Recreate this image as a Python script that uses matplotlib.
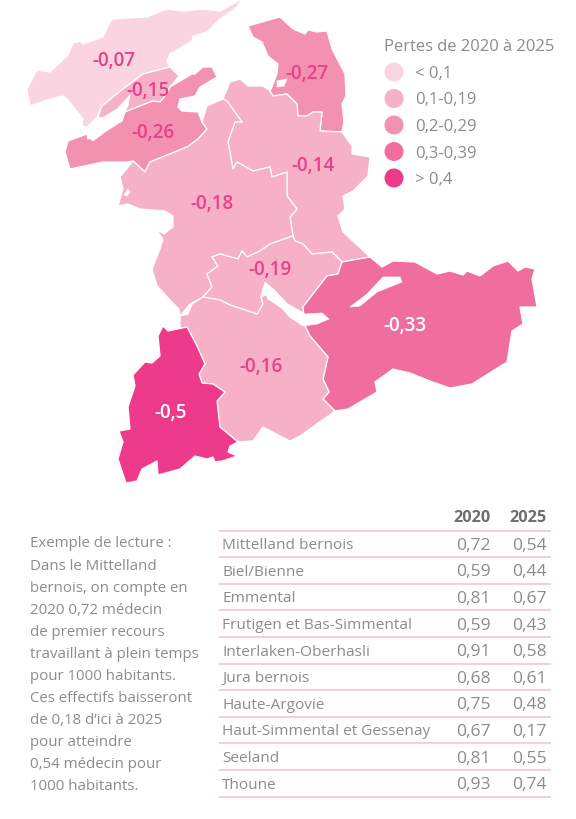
import matplotlib
matplotlib.use("Agg")
import matplotlib.pyplot as plt
from matplotlib.patches import Polygon, Circle

plt.rcParams['font.family'] = ['Open Sans', 'DejaVu Sans']

# ---- data ----
districts = ["Mittelland bernois", "Biel/Bienne", "Emmental", "Frutigen et Bas-Simmental",
             "Interlaken-Oberhasli", "Jura bernois", "Haute-Argovie",
             "Haut-Simmental et Gessenay", "Seeland", "Thoune"]
v2020 = ["0,72", "0,59", "0,81", "0,59", "0,91", "0,68", "0,75", "0,67", "0,81", "0,93"]
v2025 = ["0,54", "0,44", "0,67", "0,43", "0,58", "0,61", "0,48", "0,17", "0,55", "0,74"]
headers = ["2020", "2025"]

legend_title = "Pertes de 2020 à 2025"
legend_labels = ["< 0,1", "0,1-0,19", "0,2-0,29", "0,3-0,39", "> 0,4"]
palette = ["#FAD4E0", "#F6B1C8", "#F391B1", "#F06E9D", "#EE3A8A"]

note_lines = ["Exemple de lecture :", "Dans le Mittelland", "bernois, on compte en",
              "2020 0,72 médecin", "de premier recours", "travaillant à plein temps",
              "pour 1000 habitants.", "Ces effectifs baisseront", "de 0,18 d’ici à 2025",
              "pour atteindre", "0,54 médecin pour", "1000 habitants."]

jura = [(27,90),(37,71),(50,73),(68,56),(73,44),(80,42),(83,45),(103,38),(110,23),(112,20),(147,18),
        (167,10),(183,12),(203,10),(220,12),(233,5),(242,0),(237,8),(220,20),(207,33),(193,37),
        (192,42),(170,55),(167,62),(170,68),(143,75),(123,90),(102,107),(97,118),(87,128),(82,127),
        (83,120),(67,100),(63,97),(50,100),(30,107)]
seeland = [(170,68),(179,77),(170,88),(167,95),(160,103),(153,102),(140,107),(125,113),(122,122),
           (110,125),(98,118),(102,107),(123,90),(143,75)]
bienne_area = [(65,153),(68,142),(87,135),(88,140),(102,132),(122,122),(125,113),(140,107),(153,102),
               (160,103),(167,95),(170,88),(192,75),(195,75),(203,68),(212,68),(217,78),(200,88),
               (195,97),(180,100),(178,108),(182,112),(198,113),(202,123),(207,130),(198,140),
               (187,148),(150,163),(145,173),(133,162),(127,163),(103,163),(70,170)]
argovie = [(248,27),(280,18),(293,30),(305,35),(308,31),(317,33),(327,32),(332,50),(345,75),(346,97),
           (342,105),(344,123),(342,133),(320,132),(322,113),(313,113),(307,117),(298,117),(297,105),
           (287,95),(273,97),(270,92),(272,88),(277,75),(278,65),(268,57),(262,43),(253,38)]
emmental = [(227,102),(223,100),(230,83),(240,80),(248,87),(263,87),(270,92),(273,97),(287,95),(297,105),
            (298,117),(307,117),(313,113),(322,113),(320,132),(342,133),(352,147),(352,155),(370,158),
            (368,177),(353,192),(343,197),(345,210),(338,217),(343,233),(370,258),(342,263),(332,253),
            (312,255),(303,245),(295,242),(293,237),(290,218),(297,210),(287,197),(287,173),
            (272,178),(270,168),(253,172),(237,163),(233,170),(228,143),(235,123),(242,123)]
mittelland = [(202,123),(207,107),(223,100),(227,102),(242,123),(235,123),(228,143),(233,170),(237,163),
              (253,172),(270,168),(272,178),(287,173),(287,197),(297,210),(290,218),(293,237),(290,238),
              (270,245),(260,252),(247,258),(242,252),(238,260),(220,255),(212,258),(218,267),(207,275),
              (212,288),(203,298),(190,305),(180,317),(179,310),(172,303),(157,287),(152,270),(160,250),
              (163,240),(156,230),(164,235),(173,228),(173,217),(165,212),(140,210),(128,205),(118,207),
              (123,190),(120,178),(133,162),(145,173),(150,163),(187,148),(198,140),(207,130)]
thoune = [(293,237),(295,242),(303,245),(312,255),(332,253),(342,263),(338,275),(327,277),(303,308),(305,315),
          (287,305),(273,290),(263,290),(261,298),(263,305),(257,315),(230,306),(220,301),(203,298),
          (212,288),(207,275),(218,267),(212,258),(220,255),(238,260),(242,252),(247,258),(260,252),
          (270,245),(290,238)]
interlaken = [(342,263),(370,258),(382,268),(393,262),(415,263),(437,275),(450,272),(463,276),(467,272),
              (480,277),(493,267),(508,262),(518,272),(525,268),(535,270),(532,280),(537,308),(520,308),
              (523,325),(512,332),(507,363),(472,385),(450,389),(430,382),(410,374),(393,370),(375,383),
              (377,393),(348,410),(335,412),(323,400),(329,393),(323,380),(328,358),(310,337),(305,327),
              (303,308),(327,277),(338,275)]
frutigen = [(180,317),(188,315),(192,305),(203,298),(220,301),(230,306),(257,315),(263,305),(261,298),
            (267,295),(283,310),(290,318),(305,327),(310,337),(328,358),(323,380),(329,393),(323,400),
            (335,412),(300,437),(290,442),(263,428),(253,442),(238,443),(220,428),(217,402),(225,393),
            (213,385),(202,384),(199,375),(205,365),(197,347),(187,328),(180,330)]
gessenay = [(163,327),(168,332),(187,328),(197,347),(205,365),(199,375),(202,384),(213,385),(225,393),
            (217,402),(220,428),(238,443),(230,447),(228,453),(237,457),(222,462),(215,463),(213,458),
            (207,460),(195,457),(180,470),(158,476),(157,462),(142,470),(137,482),(126,484),(118,460),
            (123,443),(119,432),(130,430),(128,408),(135,387),(133,376),(145,363),(152,364),(160,357),
            (158,337)]
lake_biel = [(98,118),(102,119),(117,110),(130,96),(128,107),(122,118),(122,122),(105,133),(93,142),
             (88,138),(102,124),(80,135),(87,128)]
lake_thoune = [(263,290),(265,283),(273,290),(287,305),(305,315),(322,314),(329,320),(317,325),(303,327),
               (290,318),(283,310),(268,300)]
lake_brienz = [(350,308),(360,307),(377,293),(402,283),(400,278),(383,278),(367,295)]
pond_a = [(277,82),(287,80),(284,87),(277,88)]
pond_b = [(124,196),(128,190),(130,193),(127,197)]

regions = [
    (jura, -0.07, "-0,07", 114, 60),
    (seeland, -0.15, "-0,15", 148, 90),
    (bienne_area, -0.26, "-0,26", 153, 132),
    (argovie, -0.27, "-0,27", 307, 73),
    (emmental, -0.14, "-0,14", 313, 165),
    (mittelland, -0.18, "-0,18", 212, 203),
    (thoune, -0.19, "-0,19", 270, 269),
    (interlaken, -0.33, "-0,33", 405, 325),
    (frutigen, -0.16, "-0,16", 261, 366),
    (gessenay, -0.5, "-0,5", 171, 412),
]
lakes = [lake_biel, lake_thoune, lake_brienz, pond_a, pond_b]

def bin_color(v):
    a = abs(v)
    if a < 0.1: return palette[0]
    if a < 0.2: return palette[1]
    if a < 0.3: return palette[2]
    if a < 0.4: return palette[3]
    return palette[4]

PINK = "#EA3F8A"
GRAY = "#8C8C8C"
RULE = "#F7C9D8"

fig = plt.figure(figsize=(5.76, 8.20), dpi=100)
ax = fig.add_axes([0, 0, 1, 1])
ax.set_xlim(0, 576)
ax.set_ylim(820, 0)
ax.axis("off")

for pts, val, lab, lx, ly in regions:
    ax.add_patch(Polygon(pts, closed=True, facecolor=bin_color(val), edgecolor="white",
                         linewidth=0.9, joinstyle="round", zorder=2))
for pts in lakes:
    ax.add_patch(Polygon(pts, closed=True, facecolor="white", edgecolor="white",
                         linewidth=0.5, zorder=3))
for pts, val, lab, lx, ly in regions:
    c = "white" if abs(val) >= 0.3 else PINK
    ax.text(lx, ly + 1, lab, color=c, fontsize=13.6, fontweight="semibold", ha="center", va="center", zorder=5)

# legend
ax.text(384, 47, legend_title, color=GRAY, fontsize=11.9, ha="left", va="center")
for i, (lab, col) in enumerate(zip(legend_labels, palette)):
    y = 73 + i * 26.5
    ax.add_patch(Circle((394, y), 9.5, facecolor=col, edgecolor="none"))
    ax.text(415, y + 1, lab, color=GRAY, fontsize=12, ha="left", va="center")

# note
for i, line in enumerate(note_lines):
    ax.text(30, 544 + i * 22.05, line, color=GRAY, fontsize=10.8, ha="left", va="center")

# table
top = 531.5
step = 26.6
ax.text(491, 518, headers[0], color="#6F6F6F", fontsize=11.7, fontweight="bold", ha="right", va="center")
ax.text(547, 518, headers[1], color="#6F6F6F", fontsize=11.7, fontweight="bold", ha="right", va="center")
ax.plot([219, 551], [top, top], color=RULE, lw=1.3, solid_capstyle="butt")
for i, (d, a, b) in enumerate(zip(districts, v2020, v2025)):
    yc = top + (i + 0.5) * step + 1
    ax.text(222, yc, d, color=GRAY, fontsize=11.1, ha="left", va="center")
    ax.text(491, yc, a, color=GRAY, fontsize=12.6, ha="right", va="center")
    ax.text(547, yc, b, color=GRAY, fontsize=12.6, ha="right", va="center")
    y = top + (i + 1) * step
    ax.plot([219, 551], [y, y], color=RULE, lw=1.3, solid_capstyle="butt")

fig.savefig("out.png", dpi=100, facecolor="white")
